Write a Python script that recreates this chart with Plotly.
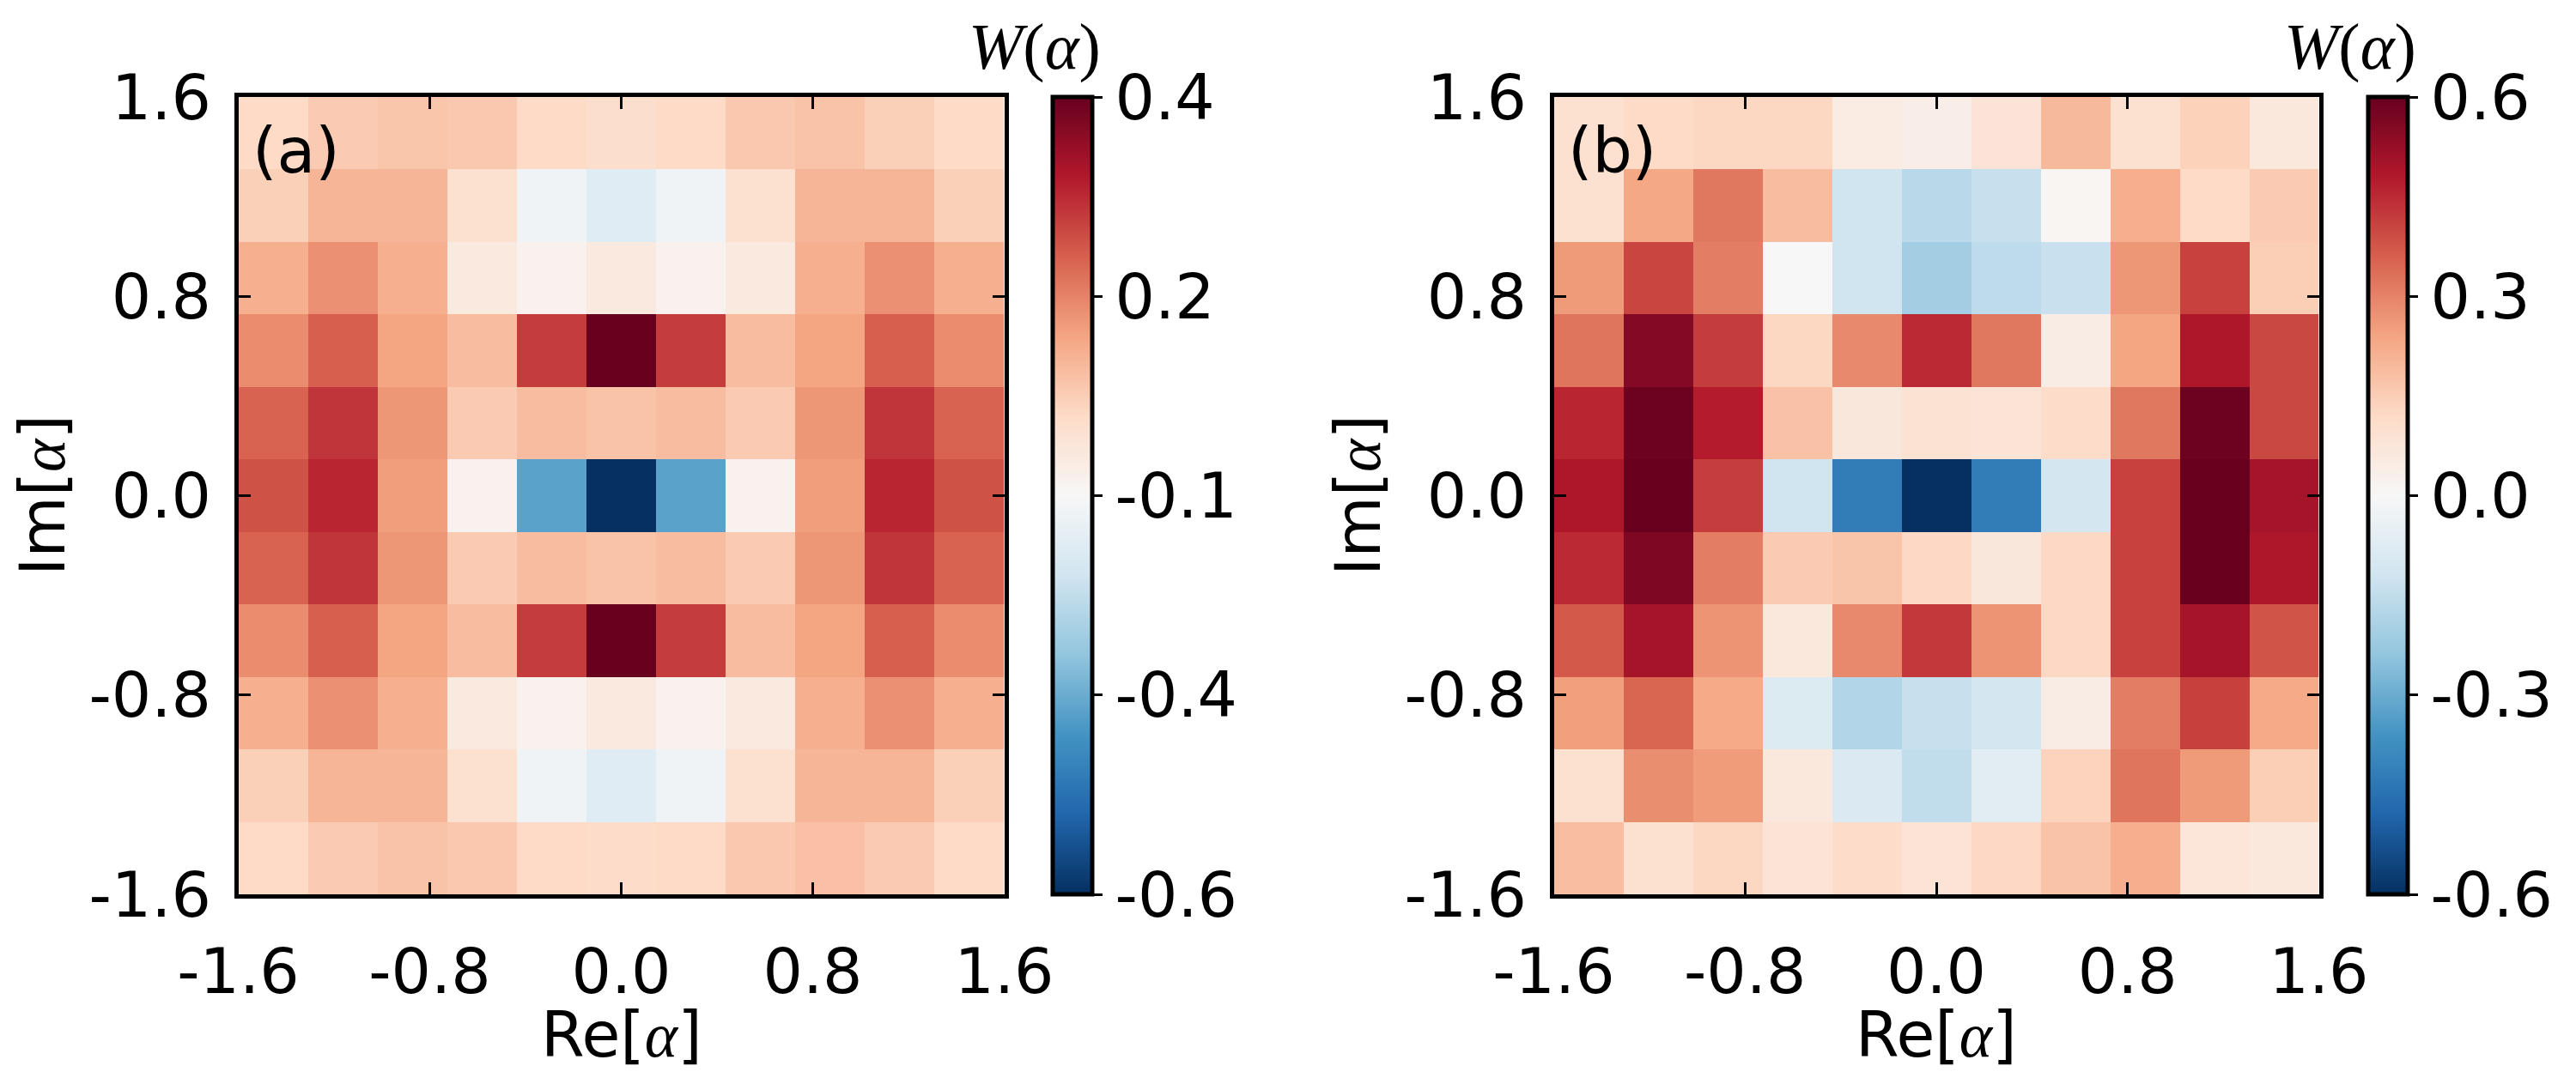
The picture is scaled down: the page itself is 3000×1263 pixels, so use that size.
import numpy as np
import plotly.graph_objects as go

# ---- data -------------------------------------------------------------
re_edges = np.linspace(-1.6, 1.6, 12)   # cell edges along Re[alpha]
im_edges = np.linspace(-1.6, 1.6, 12)   # cell edges along Im[alpha]

# Panel (a): rows listed from top (Im = +1.6) to bottom (Im = -1.6)
W_a_rows = [
    [0.00, 0.03, 0.04, 0.035, 0.00, -0.01, 0.00, 0.035, 0.045, 0.02, 0.00],
    [0.02, 0.07, 0.07, -0.02, -0.12, -0.16, -0.12, -0.02, 0.07, 0.07, 0.02],
    [0.08, 0.13, 0.08, -0.05, -0.08, -0.05, -0.08, -0.05, 0.08, 0.13, 0.08],
    [0.135, 0.20, 0.10, 0.055, 0.25, 0.40, 0.25, 0.055, 0.10, 0.20, 0.135],
    [0.195, 0.26, 0.12, 0.03, 0.055, 0.045, 0.055, 0.03, 0.12, 0.26, 0.195],
    [0.22, 0.28, 0.11, -0.08, -0.37, -0.60, -0.37, -0.08, 0.11, 0.28, 0.22],
    [0.195, 0.26, 0.12, 0.03, 0.055, 0.045, 0.055, 0.03, 0.12, 0.26, 0.195],
    [0.135, 0.20, 0.10, 0.055, 0.25, 0.40, 0.25, 0.055, 0.10, 0.20, 0.135],
    [0.08, 0.13, 0.08, -0.05, -0.08, -0.05, -0.08, -0.05, 0.08, 0.13, 0.08],
    [0.02, 0.07, 0.07, -0.02, -0.12, -0.16, -0.12, -0.02, 0.07, 0.07, 0.02],
    [0.00, 0.03, 0.045, 0.035, 0.00, -0.005, 0.00, 0.035, 0.05, 0.03, 0.00],
]

# Panel (b): rows listed from top (Im = +1.6) to bottom (Im = -1.6)
W_b_rows = [
    [0.095, 0.12, 0.13, 0.13, 0.05, 0.04, 0.08, 0.195, 0.095, 0.14, 0.066],
    [0.095, 0.233, 0.32, 0.186, -0.12, -0.166, -0.14, 0.01, 0.22, 0.12, 0.156],
    [0.26, 0.405, 0.31, 0.00, -0.12, -0.21, -0.156, -0.136, 0.264, 0.41, 0.15],
    [0.324, 0.553, 0.42, 0.13, 0.29, 0.45, 0.32, 0.048, 0.24, 0.486, 0.40],
    [0.456, 0.59, 0.474, 0.175, 0.067, 0.09, 0.084, 0.114, 0.32, 0.59, 0.40],
    [0.486, 0.60, 0.418, -0.12, -0.42, -0.60, -0.42, -0.11, 0.41, 0.60, 0.50],
    [0.45, 0.564, 0.31, 0.156, 0.17, 0.126, 0.067, 0.126, 0.41, 0.60, 0.486],
    [0.37, 0.50, 0.27, 0.066, 0.29, 0.425, 0.27, 0.126, 0.41, 0.50, 0.38],
    [0.25, 0.35, 0.23, -0.084, -0.18, -0.138, -0.11, 0.048, 0.31, 0.414, 0.23],
    [0.095, 0.28, 0.255, 0.064, -0.09, -0.15, -0.07, 0.138, 0.324, 0.26, 0.15],
    [0.184, 0.095, 0.13, 0.086, 0.115, 0.086, 0.126, 0.174, 0.22, 0.075, 0.066],
]

axis_tickvals = [-1.6, -0.8, 0.0, 0.8, 1.6]
axis_ticktext = ["-1.6", "-0.8", "0.0", "0.8", "1.6"]

cbar_a_range = [-0.6, 0.4]
cbar_a_tickvals = [-0.6, -0.35, -0.1, 0.15, 0.4]
cbar_a_ticktext = ["-0.6", "-0.4", "-0.1", "0.2", "0.4"]

cbar_b_range = [-0.6, 0.6]
cbar_b_tickvals = [-0.6, -0.3, 0.0, 0.3, 0.6]
cbar_b_ticktext = ["-0.6", "-0.3", "0.0", "0.3", "0.6"]

panel_labels = ["(a)", "(b)"]

# matplotlib RdBu_r
rdbu_r_colors = ["#053061", "#2166ac", "#4393c3", "#92c5de", "#d1e5f0", "#f7f7f7",
                 "#fddbc7", "#f4a582", "#d6604d", "#b2182b", "#67001f"]
rdbu_r = [[i / 10, c] for i, c in enumerate(rdbu_r_colors)]

# ---- layout geometry (pixels) -----------------------------------------
W, H = 3000, 1263
FONT = "DejaVu Sans"
FS = 73
plot_top, plot_bot = 113, 1042
ax_a = (277.5, 1169.5)
ax_b = (1809.5, 2700.5)
cb_a_left = 1225.5
cb_b_left = 2757.5


def px(x):
    return x / W


def py(y):
    return (H - y) / H


def colorbar(left, tvals, ttext):
    return dict(
        x=px(left), xanchor="left", xpad=0, xref="paper",
        y=py((plot_top + plot_bot) / 2), yanchor="middle", ypad=0,
        lenmode="pixels", len=plot_bot - plot_top,
        thickness=46, outlinewidth=5, outlinecolor="black",
        ticks="outside", ticklen=10, tickwidth=3, tickcolor="black",
        tickvals=tvals, ticktext=ttext,
        tickfont=dict(family=FONT, size=FS, color="black"),
    )


fig = go.Figure()
fig.add_trace(go.Heatmap(
    x=re_edges, y=im_edges, z=W_a_rows[::-1], colorscale=rdbu_r,
    zmin=cbar_a_range[0], zmax=cbar_a_range[1], xaxis="x", yaxis="y",
    colorbar=colorbar(cb_a_left, cbar_a_tickvals, cbar_a_ticktext),
))
fig.add_trace(go.Heatmap(
    x=re_edges, y=im_edges, z=W_b_rows[::-1], colorscale=rdbu_r,
    zmin=cbar_b_range[0], zmax=cbar_b_range[1], xaxis="x2", yaxis="y2",
    colorbar=colorbar(cb_b_left, cbar_b_tickvals, cbar_b_ticktext),
))

axis_common = dict(
    range=[-1.6, 1.6], tickvals=axis_tickvals, ticktext=axis_ticktext,
    showline=True, linewidth=5, linecolor="black", mirror="allticks",
    ticks="inside", ticklen=14, tickwidth=3, tickcolor="black",
    showgrid=False, zeroline=False,
    tickfont=dict(family=FONT, size=FS, color="black"),
)

fig.update_layout(
    width=W, height=H, autosize=False,
    margin=dict(l=0, r=0, t=0, b=0, autoexpand=False),
    paper_bgcolor="white", plot_bgcolor="white",
    xaxis=dict(axis_common, domain=[px(ax_a[0]), px(ax_a[1])], anchor="y", ticklabelstandoff=22),
    yaxis=dict(axis_common, domain=[py(plot_bot), py(plot_top)], anchor="x", ticklabelstandoff=12),
    xaxis2=dict(axis_common, domain=[px(ax_b[0]), px(ax_b[1])], anchor="y2", ticklabelstandoff=22),
    yaxis2=dict(axis_common, domain=[py(plot_bot), py(plot_top)], anchor="x2", ticklabelstandoff=12),
)

alpha = '<span style="font-family:Liberation Serif;font-style:italic">α</span>'
ann = []
for (x0, x1), lab in zip([ax_a, ax_b], panel_labels):
    ann.append(dict(x=px(x0 + 14), y=py(175), xref="paper", yref="paper",
                    text=lab, showarrow=False, xanchor="left", yanchor="middle",
                    font=dict(family=FONT, size=FS, color="black")))
    ann.append(dict(x=px((x0 + x1) / 2), y=py(1205), xref="paper", yref="paper",
                    text="Re[" + alpha + "]", showarrow=False, xanchor="center", yanchor="middle",
                    font=dict(family=FONT, size=FS, color="black")))
    ann.append(dict(x=px(x0 - 228), y=py((plot_top + plot_bot) / 2), xref="paper", yref="paper",
                    text="Im[" + alpha + "]", showarrow=False, textangle=-90,
                    xanchor="center", yanchor="middle",
                    font=dict(family=FONT, size=FS, color="black")))
for cx in [1205, 2737]:
    ann.append(dict(x=px(cx), y=py(55), xref="paper", yref="paper",
                    text="<i>W</i>(<i>α</i>)", showarrow=False, xanchor="center", yanchor="middle",
                    font=dict(family="Liberation Serif", size=76, color="black")))
fig.update_layout(annotations=ann)

fig.write_html("out.html")
